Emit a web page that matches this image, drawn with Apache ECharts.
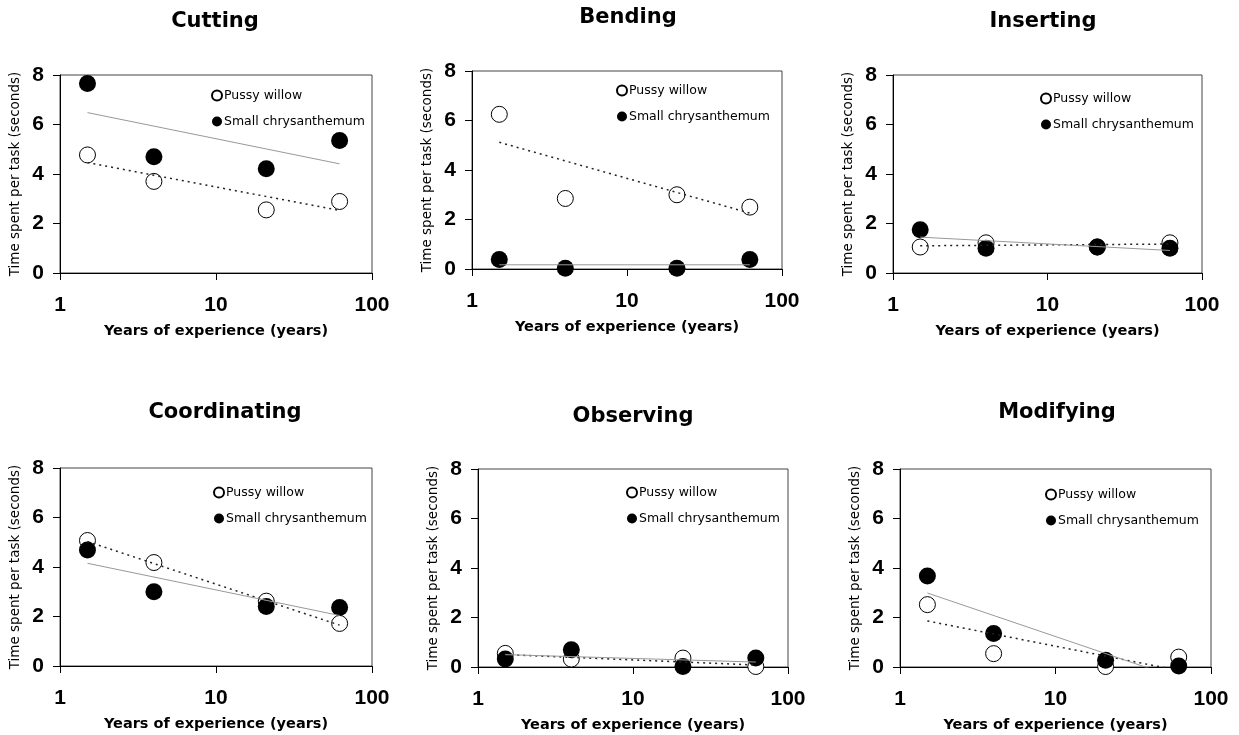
<!DOCTYPE html>
<html>
<head>
<meta charset="utf-8">
<script src="https://cdn.jsdelivr.net/npm/echarts@6/dist/echarts.min.js"></script>
<style>
  html, body { margin: 0; padding: 0; background: #fff; }
  #chart { width: 1239px; height: 735px; }
</style>
</head>
<body>
<div id="chart"></div>
<script>
// panel titles
const tasks = ["Cutting", "Bending", "Inserting", "Coordinating", "Observing", "Modifying"];
// years of experience (x) for the four groups, and the x span of the trend lines
const years = [1.5, 4, 21, 62];
const trendYears = [1.5, 62];
// time spent per task (seconds), one row per task
const willowTime = [
  [4.77, 3.70, 2.55, 2.89],
  [6.25, 2.85, 3.00, 2.50],
  [1.05, 1.22, 1.05, 1.22],
  [5.07, 4.18, 2.62, 1.72],
  [0.55, 0.32, 0.36, 0.02],
  [2.52, 0.54, 0.02, 0.40]
];
const mumTime = [
  [7.66, 4.70, 4.21, 5.35],
  [0.38, 0.03, 0.03, 0.38],
  [1.75, 1.00, 1.05, 1.00],
  [4.69, 3.00, 2.40, 2.36],
  [0.32, 0.70, 0.02, 0.36],
  [3.68, 1.35, 0.27, 0.04]
];
// trend line values at trendYears
const willowTrend = [
  [4.46, 2.53],
  [5.12, 2.26],
  [1.10, 1.17],
  [5.03, 1.65],
  [0.50, 0.08],
  [1.86, -0.14]
];
const mumTrend = [
  [6.48, 4.41],
  [0.17, 0.17],
  [1.45, 0.91],
  [4.15, 2.04],
  [0.50, 0.20],
  [2.99, -0.46]
];
const yTicks = { min: 0, max: 8, interval: 2 };

// layout per panel: grid box, title centre, legend corner
const boxes = [
  { left: 60, top: 75, width: 312, tx: 215, ty: 22, lx: 211, ly: 89 },
  { left: 472, top: 71, width: 310, tx: 628, ty: 18, lx: 616, ly: 84 },
  { left: 893, top: 75, width: 309, tx: 1043, ty: 22, lx: 1040, ly: 92 },
  { left: 60, top: 468, width: 312, tx: 225, ty: 413, lx: 213, ly: 486 },
  { left: 478, top: 469, width: 310, tx: 633, ty: 417, lx: 626, ly: 486 },
  { left: 900, top: 469, width: 311, tx: 1057, ty: 413, lx: 1045, ly: 488 }
];
const plotH = 198;

const grid = [], xAxis = [], yAxis = [], series = [], legend = [], graphic = [];

tasks.forEach(function (task, i) {
  const b = boxes[i];
  grid.push({
    left: b.left, top: b.top, width: b.width, height: plotH,
    show: true, borderColor: "#444", borderWidth: 1, backgroundColor: "transparent"
  });
  xAxis.push({
    gridIndex: i,
    type: "log",
    logBase: 10,
    min: 1,
    max: 100,
    name: "Years of experience (years)",
    nameLocation: "middle",
    nameGap: 51,
    nameTextStyle: { fontFamily: "DejaVu Sans", fontWeight: "bold", fontSize: 14.5, color: "#000" },
    axisLine: { onZero: false, lineStyle: { color: "#000", width: 1 } },
    axisTick: { length: 7, lineStyle: { color: "#000" } },
    minorTick: { show: false },
    splitLine: { show: false },
    axisLabel: { margin: 22, fontFamily: "Liberation Sans", fontWeight: "bold", fontSize: 21, color: "#000" }
  });
  yAxis.push({
    gridIndex: i,
    type: "value",
    min: yTicks.min,
    max: yTicks.max,
    interval: yTicks.interval,
    name: "Time spent per task (seconds)",
    nameLocation: "middle",
    nameGap: 38,
    nameTextStyle: { fontFamily: "DejaVu Sans", fontSize: 13.5, color: "#000" },
    axisLine: { show: true, lineStyle: { color: "#000", width: 1 } },
    axisTick: { show: true, length: 7, lineStyle: { color: "#000" } },
    splitLine: { show: false },
    axisLabel: { margin: 16, fontFamily: "Liberation Sans", fontWeight: "bold", fontSize: 21, color: "#000" }
  });

  series.push({
    name: "Pussy willow",
    type: "scatter",
    xAxisIndex: i, yAxisIndex: i,
    symbolSize: 16,
    itemStyle: { color: "#fff", borderColor: "#000", borderWidth: 1, opacity: 1 },
    data: years.map(function (x, k) { return [x, willowTime[i][k]]; }),
    z: 2
  });
  series.push({
    name: "Small chrysanthemum",
    type: "scatter",
    xAxisIndex: i, yAxisIndex: i,
    symbolSize: 17,
    itemStyle: { color: "#000", opacity: 1 },
    data: years.map(function (x, k) { return [x, mumTime[i][k]]; }),
    z: 3
  });
  series.push({
    name: "willow trend",
    type: "line",
    xAxisIndex: i, yAxisIndex: i,
    symbol: "none",
    clip: true,
    lineStyle: { color: "#222", width: 1.5, type: [2, 4] },
    data: trendYears.map(function (x, k) { return [x, willowTrend[i][k]]; }),
    silent: true,
    z: 4
  });
  series.push({
    name: "chrysanthemum trend",
    type: "line",
    xAxisIndex: i, yAxisIndex: i,
    symbol: "none",
    clip: true,
    lineStyle: { color: "#999", width: 1 },
    data: trendYears.map(function (x, k) { return [x, mumTrend[i][k]]; }),
    silent: true,
    z: 4
  });

  legend.push({
    data: ["Pussy willow", "Small chrysanthemum"],
    left: b.lx,
    top: b.ly,
    orient: "vertical",
    icon: "circle",
    itemWidth: 10,
    itemHeight: 10,
    itemGap: 13,
    padding: 0,
    selectedMode: false,
    textStyle: { fontFamily: "DejaVu Sans", fontSize: 12.5, color: "#000", padding: [0, 0, 0, -3] }
  });

  graphic.push({
    type: "text",
    x: b.tx,
    y: b.ty,
    style: {
      text: task,
      align: "center",
      verticalAlign: "middle",
      font: "bold 21px 'DejaVu Sans'",
      fill: "#000"
    }
  });
});

const chart = echarts.init(document.getElementById("chart"));
chart.setOption({
  animation: false,
  backgroundColor: "#fff",
  grid: grid,
  xAxis: xAxis,
  yAxis: yAxis,
  legend: legend,
  graphic: graphic,
  series: series
});
</script>
</body>
</html>
